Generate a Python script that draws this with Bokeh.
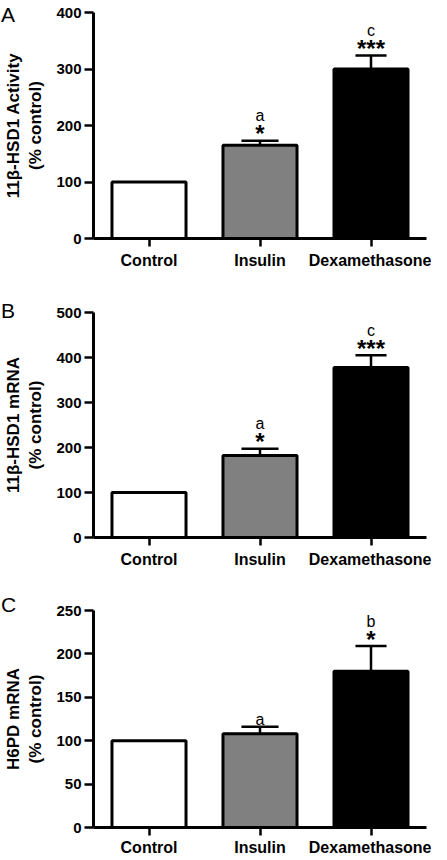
from bokeh.plotting import figure
from bokeh.models import ColumnDataSource, Range1d, SingleIntervalTicker, FixedTicker, Div
from bokeh.layouts import column
from bokeh.embed import file_html
from bokeh.resources import INLINE
from bokeh.core.properties import value

categories = ["Control", "Insulin", "Dexamethasone"]
panel_letters = ["A", "B", "C"]

# Panel A: 11beta-HSD1 activity (% control)
a_values = [100, 165, 300]
a_errors = [0, 8, 24]
a_stars = ["", "*", "***"]
a_letters = ["", "a", "c"]

# Panel B: 11beta-HSD1 mRNA (% control)
b_values = [100, 182, 378]
b_errors = [0, 15, 27]
b_stars = ["", "*", "***"]
b_letters = ["", "a", "c"]

# Panel C: H6PD mRNA (% control)
c_values = [100, 108, 180]
c_errors = [0, 8, 29]
c_stars = ["", "", "*"]
c_letters = ["", "a", "b"]

FONT = "Liberation Sans"
fills = ["#ffffff", "#808080", "#000000"]
cap_half = [0.0, 0.167, 0.14]
FIG_W = 431
BORDER_L = 88
letter_tops = [0, 296, 590]   # px, relative to the top of the layout


def panel(ylabel, vals, errs, stars, letters, ymax, ystep, height, top, bottom, xstand=5):
    p = figure(width=FIG_W, height=height, output_backend="svg", toolbar_location=None,
               x_range=Range1d(0.5, 3.5), y_range=Range1d(0, ymax),
               min_border_left=BORDER_L, min_border_right=5,
               min_border_top=top, min_border_bottom=bottom)
    xs = [i + 1 for i in range(len(categories))]
    src = ColumnDataSource(dict(x=xs, top=vals, fill=fills))
    p.vbar(x="x", top="top", bottom=0, width=0.667, fill_color="fill",
           line_color="black", line_width=3, source=src)

    ex, ey0, ey1, cx0, cx1 = [], [], [], [], []
    for x, v, e, h in zip(xs, vals, errs, cap_half):
        if e > 0:
            ex.append(x); ey0.append(v); ey1.append(v + e)
            cx0.append(x - h); cx1.append(x + h)
    p.segment(x0=ex, y0=ey0, x1=ex, y1=ey1, line_color="black", line_width=2.5)
    p.segment(x0=cx0, y0=ey1, x1=cx1, y1=ey1, line_color="black", line_width=2.5)

    tx, ty, st, lt, loff = [], [], [], [], []
    for x, v, e, s, l in zip(xs, vals, errs, stars, letters):
        if s or l:
            tx.append(x); ty.append(v + e); st.append(s); lt.append(l)
            loff.append(-25 if s else -7)
    tsrc = ColumnDataSource(dict(x=tx, y=ty, star=st, let=lt, loff=loff))
    p.text(x="x", y="y", text="star", source=tsrc, text_font=value(FONT),
           text_font_size="24px", text_font_style="bold", text_align="center",
           text_baseline="alphabetic", y_offset=-7, text_color="black")
    p.text(x="x", y="y", text="let", source=tsrc, text_font=value(FONT),
           text_font_size="16px", text_align="center",
           text_baseline="alphabetic", y_offset="loff", text_color="black")

    p.xgrid.visible = False
    p.ygrid.visible = False
    p.outline_line_color = None
    p.background_fill_color = "white"
    p.border_fill_color = "white"

    for ax in (p.xaxis[0], p.yaxis[0]):
        ax.axis_line_width = 3
        ax.axis_line_color = "black"
        ax.major_tick_line_width = 2.5
        ax.major_tick_line_color = "black"
        ax.minor_tick_line_color = None
        ax.major_tick_in = 0
        ax.major_label_text_font = FONT
        ax.major_label_text_font_style = "bold"
        ax.major_label_text_color = "black"

    xa = p.xaxis[0]
    xa.ticker = FixedTicker(ticks=xs)
    xa.major_label_overrides = {x: c for x, c in zip(xs, categories)}
    xa.major_tick_out = 8
    xa.major_label_text_font_size = "16px"
    xa.major_label_standoff = xstand

    ya = p.yaxis[0]
    ya.ticker = SingleIntervalTicker(interval=ystep)
    ya.major_tick_out = 9
    ya.major_label_text_font_size = "15px"
    ya.major_label_standoff = 3
    ya.axis_label = ylabel
    ya.axis_label_text_font = FONT
    ya.axis_label_text_font_style = "bold"
    ya.axis_label_text_font_size = "17px"
    ya.axis_label_text_color = "black"
    ya.axis_label_standoff = 8
    return p


pa = panel("11β-HSD1 Activity\n(% control)", a_values, a_errors, a_stars, a_letters,
           400, 100, 282, 12, 44)
pb = panel("11β-HSD1 mRNA\n(% control)", b_values, b_errors, b_stars, b_letters,
           500, 100, 292, 30, 37)
pc = panel("H6PD mRNA\n(% control)", c_values, c_errors, c_stars, c_letters,
           250, 50, 284, 36, 24, xstand=3)

spans = "".join(
    f'<span style="position:absolute;left:-4px;top:{t}px;font-family:{FONT};'
    f'font-size:21px;line-height:20px;color:black;">{l}</span>'
    for l, t in zip(panel_letters, letter_tops))
letters_div = Div(text=spans, width=30, height=20,
                  styles={"position": "absolute", "left": "0px", "top": "0px",
                          "z-index": "5", "overflow": "visible"})

layout = column(letters_div, pa, pb, pc, spacing=0)
open("out.html", "w").write(file_html(layout, INLINE))
